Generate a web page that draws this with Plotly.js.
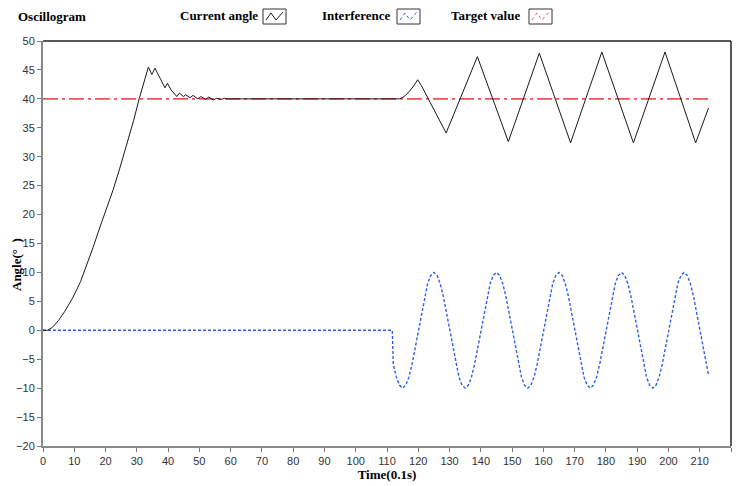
<!DOCTYPE html>
<html>
<head>
<meta charset="utf-8">
<script src="https://cdn.plot.ly/plotly-3.0.1.min.js"></script>
<style>html,body{margin:0;padding:0;background:#fff;}#chart{width:737px;height:486px;}</style>
</head>
<body>
<div id="chart"></div>
<script>
// ---- data ----
const seriesNames = ["Current angle", "Interference", "Target value"];

const currentX = [0,1.5,3,5,7,9.5,12,14,16,18,20,22.5,24.5,26.8,29,30.8,32.5,33.7,34.8,35.8,37.5,39,39.8,41,42.8,43.6,44.9,45.6,47,48,49.5,50.5,52,53,54.5,55.5,57,58,59,60,114,115.5,117,118.5,119.8,121,128.9,138.9,148.8,158.7,168.7,178.7,188.8,198.9,208.7,212.8];
const currentY = [0,0,0.5,1.7,3.3,5.6,8.4,11.2,14.3,17.5,20.6,24.4,27.9,32.0,36.3,40.1,43.3,45.5,44.2,45.3,43.5,41.9,42.7,41.5,40.4,41.0,40.4,40.7,40.2,40.6,40.0,40.4,39.9,40.3,39.8,40.1,39.9,40.1,40,40,40,40.4,41.2,42.2,43.3,42.3,34.1,47.3,32.6,47.9,32.4,48.1,32.4,48.1,32.4,38.4];

const interfX = [0,111.7,112,113,114,115,116,117,118,119,
  120,121,122,123,124,125,126,127,128,129,130,131,132,133,134,135,136,137,138,139,
  140,141,142,143,144,145,146,147,148,149,150,151,152,153,154,155,156,157,158,159,
  160,161,162,163,164,165,166,167,168,169,170,171,172,173,174,175,176,177,178,179,
  180,181,182,183,184,185,186,187,188,189,190,191,192,193,194,195,196,197,198,199,
  200,201,202,203,204,205,206,207,208,209,210,211,212,212.8];
const interfY = [0,0,-5.9,-8.1,-9.5,-10,-9.5,-8.1,-5.9,-3.1,
  0,3.1,5.9,8.1,9.5,10,9.5,8.1,5.9,3.1,0,-3.1,-5.9,-8.1,-9.5,-10,-9.5,-8.1,-5.9,-3.1,
  0,3.1,5.9,8.1,9.5,10,9.5,8.1,5.9,3.1,0,-3.1,-5.9,-8.1,-9.5,-10,-9.5,-8.1,-5.9,-3.1,
  0,3.1,5.9,8.1,9.5,10,9.5,8.1,5.9,3.1,0,-3.1,-5.9,-8.1,-9.5,-10,-9.5,-8.1,-5.9,-3.1,
  0,3.1,5.9,8.1,9.5,10,9.5,8.1,5.9,3.1,0,-3.1,-5.9,-8.1,-9.5,-10,-9.5,-8.1,-5.9,-3.1,
  0,3.1,5.9,8.1,9.5,10,9.5,8.1,5.9,3.1,0,-3.1,-5.9,-7.7];

const targetX = [0, 212.7];
const targetY = [40, 40];

const xTickVals = [0,10,20,30,40,50,60,70,80,90,100,110,120,130,140,150,160,170,180,190,200,210,220];
const yTickVals = [-20,-15,-10,-5,0,5,10,15,20,25,30,35,40,45,50];

const chartTitle = "Oscillogram";
const xTitle = "Time(0.1s)";
const yTitle = "Angle(°  )";

// ---- layout helpers ----
const W = 737, H = 486;
const M = {l: 43, r: 6, t: 41, b: 40};
const PW = W - M.l - M.r, PH = H - M.t - M.b;
const px = v => (v - M.l) / PW;
const py = v => (H - M.b - v) / PH;

const colors = ["#1a1a1a", "#2f5fe8", "#ee5555"];
const serif = "Liberation Serif, Times New Roman, serif";

const traces = [
  {x: targetX, y: targetY, name: seriesNames[2], mode: "lines",
   line: {color: colors[2], width: 1.6, dash: "15px,4px,3px,4px"}},
  {x: interfX, y: interfY, name: seriesNames[1], mode: "lines",
   line: {color: colors[1], width: 1.4, dash: "3px,2px"}},
  {x: currentX, y: currentY, name: seriesNames[0], mode: "lines",
   line: {color: colors[0], width: 1}}
];

// legend-like header (text + boxed icon to the right)
const legendItems = [
  {name: seriesNames[0], tx: 178, bx: 263, color: colors[0], dash: "solid"},
  {name: seriesNames[1], tx: 320, bx: 397, color: colors[1], dash: "dot"},
  {name: seriesNames[2], tx: 449, bx: 529, color: colors[2], dash: "dot"}
];
const annotations = [
  {text: "<b>" + chartTitle + "</b>", xref: "paper", yref: "paper", x: px(16), y: py(17),
   xanchor: "left", yanchor: "middle", showarrow: false, font: {family: serif, size: 13, color: "#000"}},
  {text: "<b>" + yTitle + "</b>", xref: "paper", yref: "paper", x: px(16), y: py(265),
   xanchor: "center", yanchor: "middle", textangle: -90, showarrow: false, font: {family: serif, size: 13, color: "#000"}}
];
const shapes = [
  {type: "line", xref: "paper", yref: "paper", x0: 0, x1: 1, y0: 1, y1: 1, line: {color: "#222", width: 1.5}},
  {type: "line", xref: "paper", yref: "paper", x0: 1, x1: 1, y0: 0, y1: 1, line: {color: "#222", width: 1.5}}
];
legendItems.forEach(it => {
  annotations.push({text: "<b>" + it.name + "</b>", xref: "paper", yref: "paper", x: px(it.tx), y: py(16),
    xanchor: "left", yanchor: "middle", showarrow: false, font: {family: serif, size: 13, color: "#000"}});
  shapes.push({type: "rect", xref: "paper", yref: "paper", x0: px(it.bx), x1: px(it.bx + 23), y0: py(24), y1: py(9),
    line: {color: "#333", width: 1}, fillcolor: "#fff"});
  const b = it.bx;
  shapes.push({type: "path", xref: "paper", yref: "paper",
    path: `M ${px(b+3)} ${py(20)} L ${px(b+8)} ${py(13)} L ${px(b+13)} ${py(20)} L ${px(b+20)} ${py(12)}`,
    line: {color: it.color, width: 1, dash: it.dash}});
});

const tickFont = {family: "Liberation Sans Narrow, Liberation Sans, Arial, sans-serif", size: 11, color: "#333"};

const layout = {
  width: W, height: H,
  margin: M,
  paper_bgcolor: "#fff", plot_bgcolor: "#fff",
  showlegend: false,
  xaxis: {
    range: [0, 220], tickvals: xTickVals, ticks: "outside", ticklen: 4, tickcolor: "#777",
    showline: true, linecolor: "#888", linewidth: 2, showgrid: false, zeroline: false,
    tickfont: tickFont, automargin: false,
    title: {text: "<b>" + xTitle + "</b>", font: {family: serif, size: 13, color: "#000"}, standoff: 4}
  },
  yaxis: {
    range: [-20, 50], tickvals: yTickVals, ticks: "outside", ticklen: 4, tickcolor: "#777",
    showline: true, linecolor: "#888", linewidth: 2, showgrid: false, zeroline: false,
    tickfont: tickFont, automargin: false
  },
  annotations: annotations,
  shapes: shapes
};

Plotly.newPlot("chart", traces, layout, {staticPlot: true, displayModeBar: false});
</script>
</body>
</html>
